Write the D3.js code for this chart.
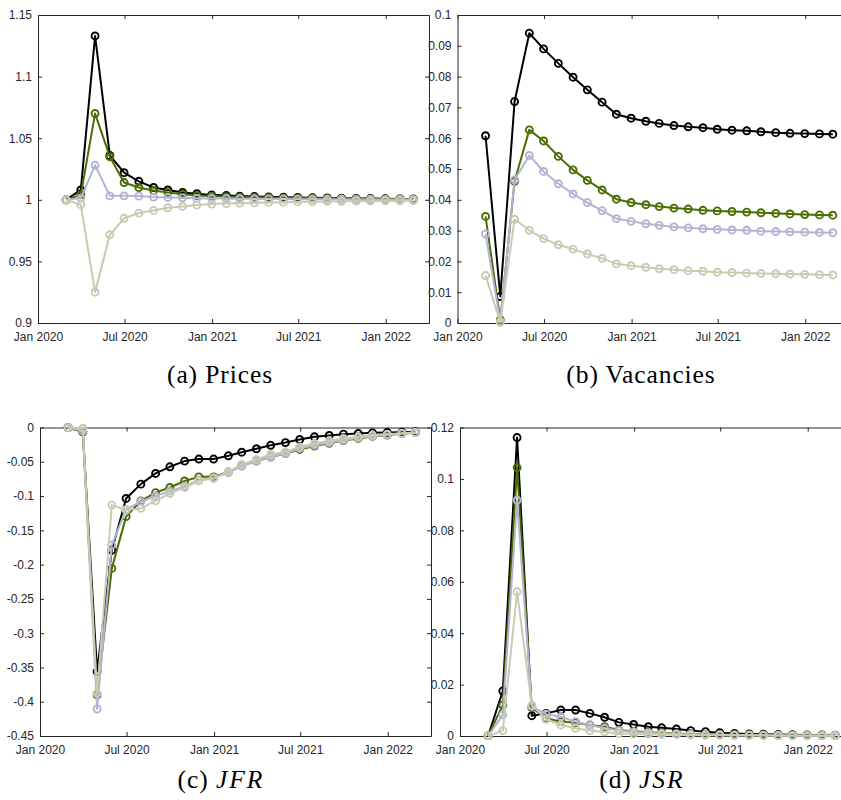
<!DOCTYPE html>
<html>
<head>
<meta charset="utf-8">
<script src="https://cdn.jsdelivr.net/npm/d3@7"></script>
<style>
  html, body { margin: 0; padding: 0; background: #fff; }
  svg { display: block; }
</style>
</head>
<body>
<svg id="chart" width="841" height="800"></svg>
<script>
// ---- Data ----
const dates = ["2020-02-29","2020-03-31","2020-04-30","2020-05-31","2020-06-30","2020-07-31","2020-08-31",
  "2020-09-30","2020-10-31","2020-11-30","2020-12-31","2021-01-31","2021-02-28","2021-03-31","2021-04-30",
  "2021-05-31","2021-06-30","2021-07-31","2021-08-31","2021-09-30","2021-10-31","2021-11-30","2021-12-31",
  "2022-01-31","2022-02-28"];
const xTickDates = ["2020-01-01","2020-07-01","2021-01-01","2021-07-01","2022-01-01"];
const xTickLabels = ["Jan 2020","Jul 2020","Jan 2021","Jul 2021","Jan 2022"];
const seriesColors = ["#000000", "#4b6c00", "#b3b3d3", "#c9cab2"];

// Panel (a) Prices
const pricesBlack = [1.000,1.008,1.133,1.036,1.022,1.015,1.010,1.008,1.006,1.005,1.004,1.0035,1.003,1.0027,1.0024,1.0021,1.0019,1.0017,1.0015,1.0013,1.0011,1.0010,1.0008,1.0007,1.0006];
const pricesGreen = [1.000,1.004,1.070,1.035,1.014,1.010,1.0076,1.006,1.0046,1.0035,1.003,1.0025,1.0022,1.002,1.0018,1.0016,1.0014,1.0012,1.0011,1.001,1.0009,1.0008,1.0007,1.0006,1.0005];
const pricesLav   = [1.000,1.0014,1.028,1.0032,1.0032,1.003,1.0022,1.0019,1.0016,1.0013,1.0011,1.001,1.0009,1.0008,1.0007,1.0006,1.0005,1.0005,1.0004,1.0004,1.0003,1.0003,1.0002,1.0002,1.0002];
const pricesBeige = [1.000,0.996,0.925,0.9716,0.985,0.9892,0.9914,0.9935,0.9946,0.9957,0.9965,0.997,0.9973,0.9976,0.9979,0.9981,0.9983,0.9985,0.9987,0.9988,0.9989,0.999,0.9991,0.9992,0.9993];
const pricesTicks = [0.9,0.95,1,1.05,1.1,1.15];

// Panel (b) Vacancies
const vacBlack = [0.0608,0.0086,0.0719,0.0941,0.0890,0.0843,0.0798,0.0757,0.0717,0.0678,0.0665,0.0655,0.0648,0.0641,0.0637,0.0634,0.0629,0.0626,0.0624,0.0621,0.0618,0.0616,0.0615,0.0614,0.0613];
const vacGreen = [0.0346,0.0010,0.0460,0.0627,0.0591,0.0541,0.0497,0.0463,0.0432,0.0402,0.0391,0.0384,0.0378,0.0373,0.0370,0.0366,0.0364,0.0362,0.0360,0.0358,0.0356,0.0354,0.0352,0.0351,0.0350];
const vacLav   = [0.0289,0.0005,0.0465,0.0544,0.0492,0.0452,0.0419,0.0391,0.0365,0.0339,0.0330,0.0322,0.0317,0.0312,0.0309,0.0306,0.0304,0.0302,0.0301,0.0298,0.0297,0.0296,0.0295,0.0294,0.0293];
const vacBeige = [0.0154,0.0002,0.0337,0.0301,0.0274,0.0254,0.0240,0.0224,0.0210,0.0192,0.0186,0.0181,0.0176,0.0173,0.0170,0.0168,0.0165,0.0164,0.0162,0.0161,0.0160,0.0159,0.0158,0.0157,0.0156];
const vacTicks = [0,0.01,0.02,0.03,0.04,0.05,0.06,0.07,0.08,0.09,0.1];

// Panel (c) JFR
const jfrBlack = [0,-0.0063,-0.356,-0.179,-0.1035,-0.0826,-0.067,-0.0573,-0.049,-0.046,-0.046,-0.0413,-0.036,-0.031,-0.026,-0.022,-0.0175,-0.0136,-0.0117,-0.0097,-0.0087,-0.0078,-0.0073,-0.0068,-0.0063];
const jfrGreen = [0,-0.006,-0.390,-0.2055,-0.130,-0.107,-0.095,-0.0875,-0.078,-0.072,-0.072,-0.065,-0.056,-0.049,-0.043,-0.038,-0.032,-0.027,-0.023,-0.019,-0.016,-0.013,-0.011,-0.009,-0.0075];
const jfrLav   = [0,-0.005,-0.4106,-0.1715,-0.1195,-0.108,-0.100,-0.0928,-0.0855,-0.0768,-0.0734,-0.066,-0.0564,-0.049,-0.0428,-0.038,-0.0306,-0.0258,-0.0219,-0.0185,-0.015,-0.0126,-0.0107,-0.0087,-0.0073];
const jfrBeige = [0,-0.001,-0.3878,-0.1132,-0.1205,-0.118,-0.107,-0.0962,-0.0875,-0.0777,-0.0743,-0.0646,-0.054,-0.0466,-0.0394,-0.0355,-0.0282,-0.0233,-0.0194,-0.016,-0.0136,-0.0112,-0.0097,-0.0083,-0.0073];
const jfrTicks = [-0.45,-0.4,-0.35,-0.3,-0.25,-0.2,-0.15,-0.1,-0.05,0];

// Panel (d) JSR
const jsrBlack = [0,0.0175,0.1161,0.0079,0.0088,0.0101,0.0101,0.0088,0.0073,0.0053,0.0045,0.0036,0.0032,0.0027,0.0021,0.0017,0.0013,0.0010,0.0008,0.0007,0.0006,0.0005,0.0004,0.0004,0.0003];
const jsrGreen = [0,0.0120,0.1044,0.0110,0.0069,0.0056,0.0052,0.0043,0.0036,0.0023,0.0018,0.0015,0.0012,0.0010,0.0008,0.0007,0.0006,0.0005,0.0004,0.0004,0.0003,0.0003,0.0002,0.0002,0.0002];
const jsrLav   = [0,0.0082,0.0917,0.0115,0.0085,0.0075,0.0056,0.0043,0.0030,0.0021,0.0016,0.0013,0.0010,0.0008,0.0007,0.0006,0.0005,0.0004,0.0004,0.0003,0.0003,0.0002,0.0002,0.0002,0.0002];
const jsrBeige = [0,0.0021,0.0561,0.0120,0.0065,0.0043,0.0030,0.0021,0.0016,0.0010,0.0008,0.0007,0.0006,0.0005,0.0004,0.0003,0.0003,0.0002,0.0002,0.0002,0.0001,0.0001,0.0001,0.0001,0.0001];
const jsrTicks = [0,0.02,0.04,0.06,0.08,0.1,0.12];

const captionA = ["(a) ", "Prices", false];
const captionB = ["(b) ", "Vacancies", false];
const captionC = ["(c) ", "JFR", true];
const captionD = ["(d) ", "JSR", true];

// ---- Drawing ----
const parse = d3.utcParse("%Y-%m-%d");
const xDates = dates.map(parse);
const xTicks = xTickDates.map(parse);
const xDomain = [parse("2020-01-01"), parse("2022-04-02")];

const svg = d3.select("#chart");
svg.append("rect").attr("width", 841).attr("height", 800).attr("fill", "#fff");

const axisColor = "#262626";
const fontSans = "'Liberation Sans', Arial, Helvetica, sans-serif";

const panels = [
  { id: "a", x0: 38, y0: 15, y1: 323, yDomain: [0.9, 1.15], yTicks: pricesTicks,
    series: [pricesBlack, pricesGreen, pricesLav, pricesBeige], caption: captionA, capX: 220, capY: 383 },
  { id: "b", x0: 457.5, y0: 15, y1: 323, yDomain: [0, 0.1], yTicks: vacTicks,
    series: [vacBlack, vacGreen, vacLav, vacBeige], caption: captionB, capX: 641, capY: 383 },
  { id: "c", x0: 40, y0: 427.5, y1: 736, yDomain: [-0.45, 0], yTicks: jfrTicks,
    series: [jfrBlack, jfrGreen, jfrLav, jfrBeige], caption: captionC, capX: 221, capY: 788 },
  { id: "d", x0: 460, y0: 427.5, y1: 736, yDomain: [0, 0.12], yTicks: jsrTicks,
    series: [jsrBlack, jsrGreen, jsrLav, jsrBeige], caption: captionD, capX: 642, capY: 788 }
];
const plotW = 391;

panels.forEach(p => {
  const x = d3.scaleUtc().domain(xDomain).range([p.x0, p.x0 + plotW]);
  const y = d3.scaleLinear().domain(p.yDomain).range([p.y1, p.y0]);
  const g = svg.append("g");
  const tl = 4;

  svg.append("clipPath").attr("id", "clip-" + p.id)
    .append("rect").attr("x", p.x0 - 4).attr("y", p.y0 - 4).attr("width", plotW + 8).attr("height", p.y1 - p.y0 + 8);

  const fmtY = v => String(+v.toFixed(4));

  const xb = d3.axisBottom(x).tickValues(xTicks).tickSizeInner(-tl).tickSizeOuter(0)
    .tickPadding(11.5).tickFormat((d, i) => xTickLabels[i]);
  const gxb = g.append("g").attr("transform", `translate(0,${p.y1})`).call(xb);
  const xt = d3.axisTop(x).tickValues(xTicks).tickSizeInner(-tl).tickSizeOuter(0).tickFormat("");
  const gxt = g.append("g").attr("transform", `translate(0,${p.y0})`).call(xt);
  const yl = d3.axisLeft(y).tickValues(p.yTicks).tickSizeInner(-tl).tickSizeOuter(0)
    .tickPadding(6).tickFormat(fmtY);
  const gyl = g.append("g").attr("transform", `translate(${p.x0},0)`).call(yl);
  const yr = d3.axisRight(y).tickValues(p.yTicks).tickSizeInner(-tl).tickSizeOuter(0).tickFormat("");
  const gyr = g.append("g").attr("transform", `translate(${p.x0 + plotW},0)`).call(yr);

  [gxb, gxt, gyl, gyr].forEach(a => {
    a.select(".domain").attr("stroke", axisColor).attr("stroke-width", 1);
    a.selectAll(".tick line").attr("stroke", axisColor).attr("stroke-width", 1);
    a.selectAll(".tick text").attr("fill", axisColor)
      .style("font-family", fontSans).style("font-size", "12px");
  });
  gxb.selectAll(".tick text").attr("dy", "0.55em");

  const line = d3.line().x((d, i) => x(xDates[i])).y(d => y(d));
  const dg = svg.append("g").attr("clip-path", `url(#clip-${p.id})`);
  p.series.forEach((s, k) => {
    const sg = dg.append("g");
    sg.append("path").datum(s).attr("d", line).attr("fill", "none")
      .attr("stroke", seriesColors[k]).attr("stroke-width", 2).attr("stroke-linejoin", "round");
    sg.selectAll("circle").data(s).join("circle")
      .attr("cx", (d, i) => x(xDates[i])).attr("cy", d => y(d)).attr("r", 3.5)
      .attr("fill", "none").attr("stroke", seriesColors[k]).attr("stroke-width", 1.9);
  });

  const t = svg.append("text").attr("x", p.capX).attr("y", p.capY).attr("text-anchor", "middle")
    .style("font-family", "'Liberation Serif', 'DejaVu Serif', serif").style("font-size", "25.5px")
    .style("letter-spacing", "0.9px").attr("fill", "#000");
  t.append("tspan").text(p.caption[0]);
  const ts = t.append("tspan").text(p.caption[1]);
  if (p.caption[2]) ts.style("font-style", "italic").style("letter-spacing", "2px");
});
</script>
</body>
</html>
